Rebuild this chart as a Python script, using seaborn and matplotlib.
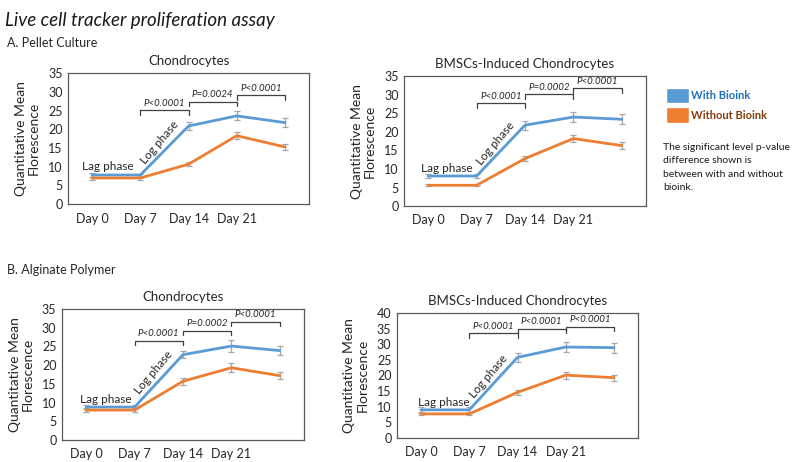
import numpy as np
import pandas as pd
import matplotlib.pyplot as plt
from matplotlib.patches import Patch
import seaborn as sns

# data
days = ["Day 0", "Day 7", "Day 14", "Day 21", ""]
groups = ["With Bioink", "Without Bioink"]

a_chon_with = [7.8, 7.8, 20.9, 23.6, 21.8]
a_chon_without = [7.0, 7.0, 10.7, 18.3, 15.3]
a_chon_with_err = [0.5, 0.4, 1.0, 1.2, 1.2]
a_chon_without_err = [0.4, 0.4, 0.5, 1.0, 0.8]

a_bmsc_with = [8.1, 8.1, 21.8, 24.0, 23.4]
a_bmsc_without = [5.6, 5.6, 12.8, 18.2, 16.3]
a_bmsc_with_err = [0.5, 0.5, 1.2, 1.3, 1.3]
a_bmsc_without_err = [0.3, 0.3, 0.7, 1.0, 0.9]

b_chon_with = [8.8, 8.8, 22.8, 25.1, 23.9]
b_chon_without = [8.0, 8.0, 15.7, 19.3, 17.2]
b_chon_with_err = [0.6, 0.6, 1.0, 1.6, 1.3]
b_chon_without_err = [0.5, 0.5, 0.9, 1.2, 1.0]

b_bmsc_with = [9.0, 9.0, 25.8, 29.1, 28.9]
b_bmsc_without = [7.7, 7.7, 14.6, 20.1, 19.3]
b_bmsc_with_err = [0.9, 0.9, 1.4, 1.6, 1.6]
b_bmsc_without_err = [0.5, 0.5, 0.9, 1.1, 1.0]

a_chon_p = ["P<0.0001", "P=0.0024", "P<0.0001"]
a_bmsc_p = ["P<0.0001", "P=0.0002", "P<0.0001"]
b_chon_p = ["P<0.0001", "P=0.0002", "P<0.0001"]
b_bmsc_p = ["P<0.0001", "P<0.0001", "P<0.0001"]

colors = {"With Bioink": "#5B9BD5", "Without Bioink": "#ED7D31"}

sns.set_theme(style="white")
plt.rcParams["font.family"] = ["Lato", "DejaVu Sans"]

fig = plt.figure(figsize=(7.93, 4.62), dpi=100)


def panel(rect, title, with_v, without_v, with_e, without_e, pvals,
          ymax, ystep, bracket_y, lag_xy, log_xy):
    ax = fig.add_axes(rect)
    x = np.arange(len(days))
    df = pd.DataFrame({
        "x": np.concatenate([x, x]),
        "value": with_v + without_v,
        "group": [groups[0]] * len(x) + [groups[1]] * len(x),
    })
    for vals, errs in [(with_v, with_e), (without_v, without_e)]:
        ax.errorbar(x, vals, yerr=errs, fmt="none", ecolor="#a6a6a6",
                    elinewidth=0.9, capsize=2.5, capthick=0.9, zorder=2)
    sns.lineplot(data=df, x="x", y="value", hue="group", palette=colors,
                 linewidth=2, legend=False, ax=ax, zorder=3)
    ax.set_xlim(-0.5, 4.5)
    ax.set_ylim(0, ymax)
    ax.set_yticks(np.arange(0, ymax + 0.1, ystep))
    ax.set_xticks(x[:4])
    ax.set_xticklabels(days[:4])
    ax.tick_params(axis="x", length=0, pad=6, labelsize=9)
    ax.tick_params(axis="y", length=0, pad=4, labelsize=9)
    ax.set_xlabel("")
    ax.set_ylabel("Quantitative Mean\nFlorescence", fontsize=10, labelpad=6,
                  linespacing=1.1)
    ax.set_title(title, fontsize=9.5, pad=6)
    for s in ax.spines.values():
        s.set_color("#595959")
        s.set_linewidth(0.9)
    # significance brackets
    drop = ymax * 0.035
    for i, (p, h) in enumerate(zip(pvals, bracket_y)):
        x0, x1 = i + 1, i + 2
        ax.plot([x0, x0, x1, x1], [h - drop, h, h, h - drop],
                color="#404040", lw=0.9, zorder=4)
        ax.text((x0 + x1) / 2, h + ymax * 0.02, p, ha="center", va="bottom",
                fontsize=7, style="italic", color="#262626")
    ax.text(lag_xy[0], lag_xy[1], "Lag phase", ha="center", va="center",
            fontsize=8.5, color="#262626")
    ax.text(log_xy[0], log_xy[1], "Log phase", ha="center", va="center",
            fontsize=8.5, rotation=50, color="#262626")
    return ax


panel([0.0858, 0.558, 0.304, 0.2835], "Chondrocytes",
      a_chon_with, a_chon_without, a_chon_with_err, a_chon_without_err,
      a_chon_p, 35, 5, [25.1, 27.4, 29.1], (0.33, 10.2), (1.4, 16.6))
panel([0.5095, 0.554, 0.305, 0.281], "BMSCs-Induced Chondrocytes",
      a_bmsc_with, a_bmsc_without, a_bmsc_with_err, a_bmsc_without_err,
      a_bmsc_p, 35, 5, [27.7, 30.1, 31.7], (0.39, 10.2), (1.4, 17.0))
panel([0.0782, 0.0476, 0.305, 0.2835], "Chondrocytes",
      b_chon_with, b_chon_without, b_chon_with_err, b_chon_without_err,
      b_chon_p, 35, 5, [26.5, 29.2, 31.6], (0.4, 10.9), (1.4, 18.0))
panel([0.5006, 0.052, 0.304, 0.2706], "BMSCs-Induced Chondrocytes",
      b_bmsc_with, b_bmsc_without, b_bmsc_with_err, b_bmsc_without_err,
      b_bmsc_p, 40, 5, [33.5, 34.9, 35.6], (0.48, 11.5), (1.4, 19.6))

fig.text(0.006, 0.975, "Live cell tracker proliferation assay", fontsize=13.5,
         style="italic", ha="left", va="top", color="#1a1a1a")
fig.text(0.009, 0.908, "A. Pellet Culture", fontsize=9, ha="left", va="center")
fig.text(0.009, 0.415, "B. Alginate Polymer", fontsize=9, ha="left", va="center")

handles = [Patch(facecolor=colors[g], edgecolor="white") for g in groups]
leg = fig.legend(handles, groups, loc="upper left",
                 bbox_to_anchor=(0.834, 0.82), frameon=False, fontsize=8,
                 handlelength=2.1, handleheight=1.8, labelspacing=0.35,
                 handletextpad=0.2, borderaxespad=0)
for t, c in zip(leg.get_texts(), ["#1f6fbf", "#843c0c"]):
    t.set_color(c)
    t.set_fontweight("bold")

fig.text(0.836, 0.69, "The significant level p-value\ndifference shown is\n"
         "between with and without\nbioink.", fontsize=7.5, ha="left", va="top",
         linespacing=1.6, color="#1a1a1a")

fig.savefig("out.png", dpi=100)
